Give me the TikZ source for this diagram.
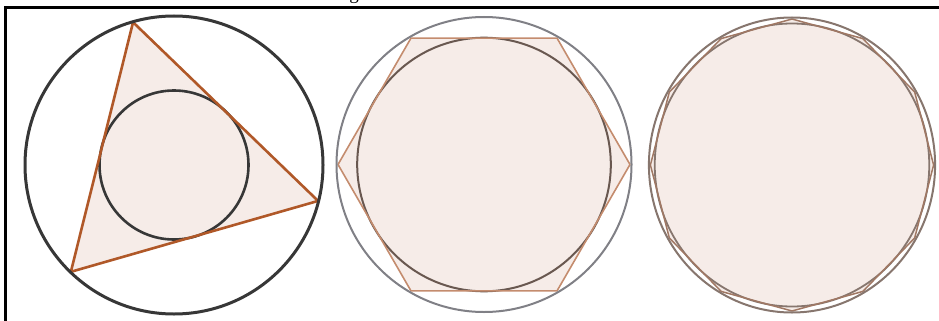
\documentclass[tikz,border=0pt]{standalone}
\usepackage{fontspec}
\setmainfont{Liberation Serif}
\definecolor{peach}{RGB}{246,236,232}
\definecolor{darkline}{RGB}{55,55,55}
\definecolor{triline}{RGB}{176,88,40}
\definecolor{midgray}{RGB}{128,128,134}
\definecolor{hexline}{RGB}{196,140,110}
\definecolor{midin}{RGB}{105,88,80}
\definecolor{rightline}{RGB}{135,118,110}
\definecolor{polyline}{RGB}{160,120,100}
\tikzset{
  frameline/.style={line width=2.2pt, black},
  bigcirc/.style={line width=3pt, darkline},
  tristroke/.style={line width=2.6pt, triline, line join=round},
  incirc/.style={line width=2.6pt, darkline, fill=peach},
  midouter/.style={line width=2pt, midgray},
  hexstroke/.style={line width=1.6pt, hexline, line join=round},
  midinner/.style={line width=2pt, midin, fill=peach},
  rightouter/.style={line width=2pt, rightline},
  polystroke/.style={line width=1.5pt, polyline, line join=round},
  rightinner/.style={line width=1.8pt, rightline, fill=peach},
}
\begin{document}
\begin{tikzpicture}[x=1pt,y={(0pt,-1pt)}]
\useasboundingbox (0,0) rectangle (939,321);
% clipped caption fragment
\node[anchor=base, font=\fontsize{19}{19}\selectfont, inner sep=0pt] (cap) at (354,-0.5) {g};
% frame
\coordinate (fbl) at (5.5,322);
\coordinate (ftl) at (5.5,7.5);
\coordinate (ftr) at (940,7.5);
\draw[frameline] (fbl) -- (ftl) -- (ftr);

% ---------- left panel ----------
\coordinate (cL) at (174,165);
\path (cL) ++(-106:148.5) coordinate (A)
      (cL) ++(14:148.5) coordinate (B)
      (cL) ++(-226:148.5) coordinate (C);
\fill[peach] (A) -- (B) -- (C) -- cycle;
\draw[incirc] (cL) circle[radius=74.5];
\draw[tristroke] (A) -- (B) -- (C) -- cycle;
\draw[bigcirc] (cL) circle[radius=149];

% ---------- middle panel ----------
\begin{scope}[shift={(484,164.5)}]
  \coordinate (cM) at (0,0);
  \fill[peach] (0:146) \foreach \a in {60,120,...,300} {-- (\a:146)} -- cycle;
  \draw[midinner] (cM) circle[radius=126.8];
  \draw[hexstroke] (0:146) \foreach \a in {60,120,...,300} {-- (\a:146)} -- cycle;
  \draw[midouter] (cM) circle[radius=147.5];
\end{scope}

% ---------- right panel ----------
\begin{scope}[shift={(792,165)}, xscale=0.97]
  \coordinate (cR) at (0,0);
  \fill[peach] (0:146) \foreach \a in {30,60,...,330} {-- (\a:146)} -- cycle;
  \draw[rightinner] (cR) circle[radius=141.5];
  \draw[polystroke] (0:146) \foreach \a in {30,60,...,330} {-- (\a:146)} -- cycle;
  \draw[rightouter] (cR) circle[radius=147.5];
\end{scope}
\end{tikzpicture}
\end{document}
